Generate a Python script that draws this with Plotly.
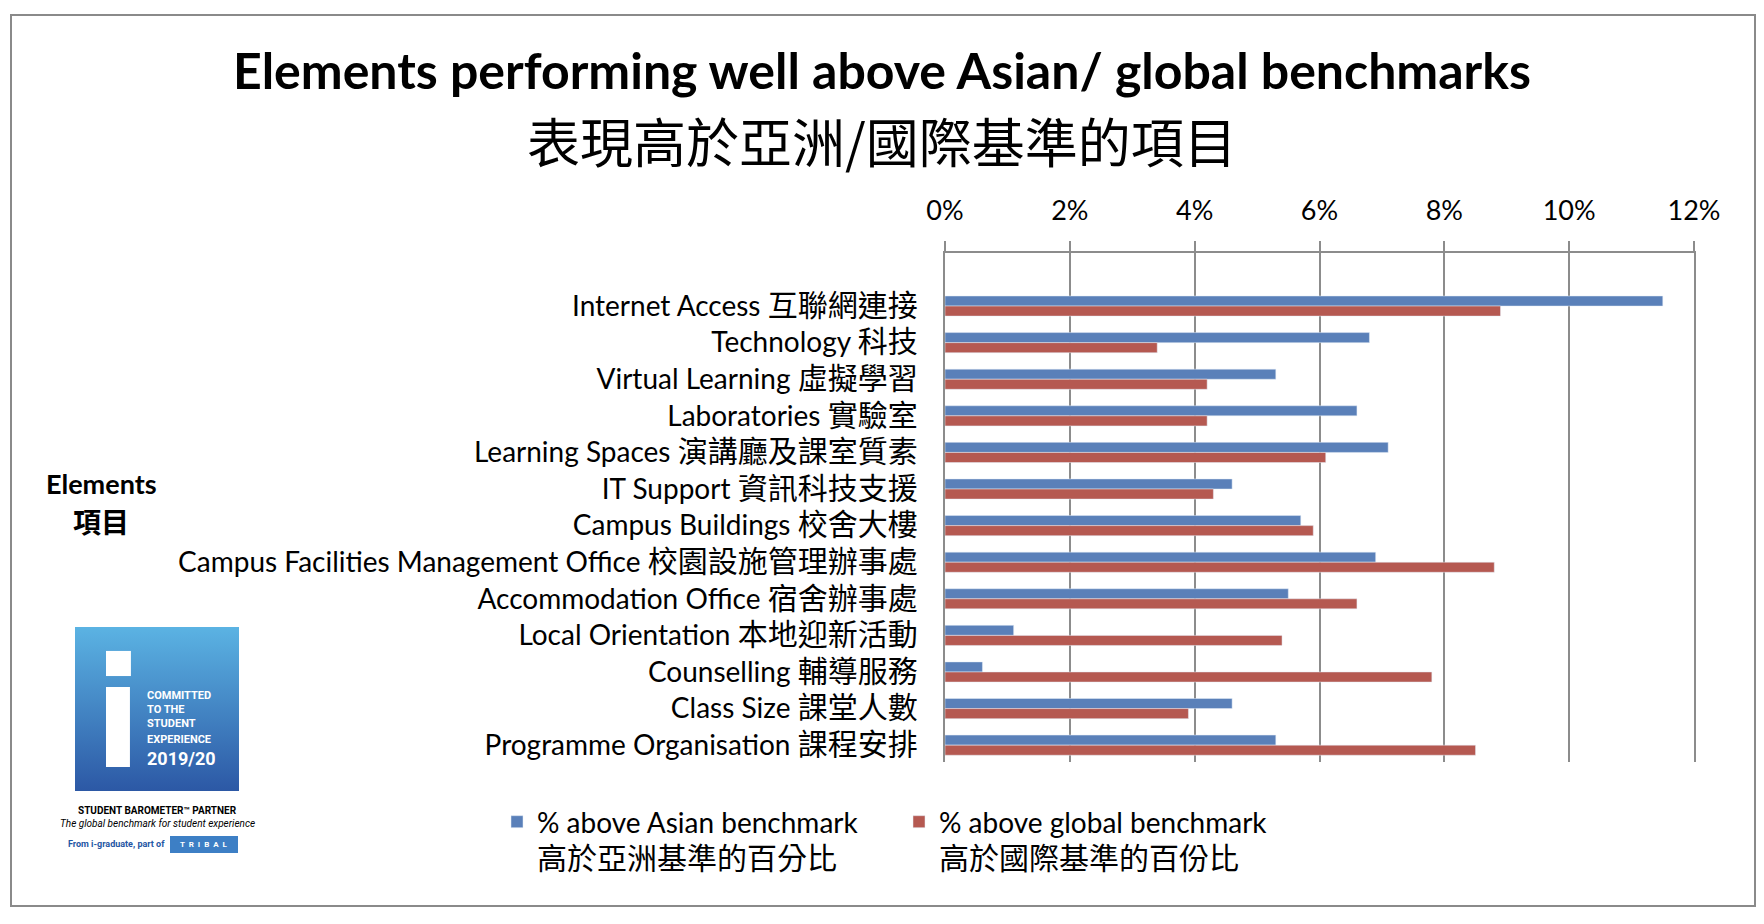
import plotly.graph_objects as go

# data (percent above benchmark)
elements_en = ["Internet Access", "Technology", "Virtual Learning", "Laboratories",
               "Learning Spaces", "IT Support", "Campus Buildings",
               "Campus Facilities Management Office", "Accommodation Office",
               "Local Orientation", "Counselling", "Class Size", "Programme Organisation"]
elements_zh = ["互聯網連接", "科技", "虛擬學習", "實驗室", "演講廳及課室質素", "資訊科技支援",
               "校舍大樓", "校園設施管理辦事處", "宿舍辦事處", "本地迎新活動", "輔導服務",
               "課堂人數", "課程安排"]
above_asian = [11.5, 6.8, 5.3, 6.6, 7.1, 4.6, 5.7, 6.9, 5.5, 1.1, 0.6, 4.6, 5.3]
above_global = [8.9, 3.4, 4.2, 4.2, 6.1, 4.3, 5.9, 8.8, 6.6, 5.4, 7.8, 3.9, 8.5]
x_ticks = [0, 2, 4, 6, 8, 10, 12]

W, H = 1764, 924
FONT = "Lato, 'Noto Sans CJK TC', sans-serif"
ZH = "'Noto Sans CJK TC', sans-serif"
GRID = "#8c8c8c"


def px(x):
    return x / W


def py(y):
    return 1 - y / H


cats = [f"{e} {z}" for e, z in zip(elements_en, elements_zh)]
tick_text = [f"{e} <span style='font-size:30px'>{z}</span>" for e, z in zip(elements_en, elements_zh)]

fig = go.Figure()
fig.add_trace(go.Bar(
    y=cats, x=above_asian, orientation="h", marker_color="#5a80b9",
    name="% above Asian benchmark<br><span style='font-size:30px'>高於亞洲基準的百分比</span>",
))
fig.add_trace(go.Bar(
    y=cats, x=above_global, orientation="h", marker_color="#b55951",
    name="% above global benchmark<br><span style='font-size:30px'>高於國際基準的百份比</span>",
))

# logo square with gradient, on its own hidden axes
fig.add_trace(go.Scatter(
    x=[0, 1, 1, 0, 0], y=[0, 0, 1, 1, 0], xaxis="x2", yaxis="y2",
    mode="lines", line=dict(width=0), fill="toself",
    fillgradient=dict(type="vertical", colorscale=[[0, "#2c58a5"], [1, "#5bb3e3"]]),
    showlegend=False, hoverinfo="skip",
))

fig.update_layout(
    width=W, height=H,
    margin=dict(l=0, r=0, t=0, b=0, autoexpand=False),
    paper_bgcolor="white", plot_bgcolor="white",
    font=dict(family=FONT, size=27, color="black"),
    barmode="group", bargap=0.45, bargroupgap=0,
    showlegend=True,
    legend=dict(orientation="h", x=px(497), y=py(797), xanchor="left", yanchor="top",
                valign="top", itemwidth=30, entrywidth=357, font=dict(size=28),
                traceorder="normal", bgcolor="rgba(0,0,0,0)"),
    xaxis=dict(domain=[px(945), px(1694)], range=[0, 12], side="top", automargin=False,
               tickvals=x_ticks, ticktext=[f"{v}%" for v in x_ticks], tickfont=dict(size=27),
               showgrid=True, gridcolor=GRID, gridwidth=1.5,
               showline=True, linecolor=GRID, linewidth=1.5,
               ticks="outside", ticklen=10, tickcolor=GRID, tickwidth=1.5,
               ticklabelstandoff=10, zeroline=False, fixedrange=True),
    yaxis=dict(domain=[py(762), py(253)], range=[12.46, -1.45], automargin=False,
               tickvals=cats, ticktext=tick_text, tickfont=dict(size=28),
               showline=True, mirror=True, linecolor=GRID, linewidth=1.5,
               ticks="", ticklabelstandoff=20, showgrid=False, fixedrange=True),
    xaxis2=dict(domain=[px(75), px(239)], range=[0, 1], visible=False, fixedrange=True,
                automargin=False),
    yaxis2=dict(domain=[py(791), py(627)], range=[0, 1], visible=False, fixedrange=True,
                automargin=False),
)

shapes = [
    # outer frame
    dict(type="rect", xref="paper", yref="paper", x0=px(11), x1=px(1755), y0=py(906), y1=py(15),
         line=dict(color="#8a8a8a", width=2), fillcolor="rgba(0,0,0,0)", layer="below"),
    # the white "i" of the logo
    dict(type="rect", xref="x2", yref="y2", x0=0.189, x1=0.341, y0=0.701, y1=0.854,
         line=dict(width=0), fillcolor="white"),
    dict(type="rect", xref="x2", yref="y2", x0=0.189, x1=0.335, y0=0.146, y1=0.634,
         line=dict(width=0), fillcolor="white"),
    # TRIBAL badge
    dict(type="rect", xref="paper", yref="paper", x0=px(170), x1=px(238), y0=py(853), y1=py(836),
         line=dict(width=0), fillcolor="#3d7fc5"),
]

annotations = [
    dict(text="<b>Elements performing well above Asian/ global benchmarks</b>",
         x=0.5, y=py(70), font=dict(size=50)),
    dict(text="表現高於亞洲/國際基準的項目", x=0.5, y=py(140), font=dict(size=53, family=ZH)),
    dict(text="<b>Elements</b>", x=px(101), y=py(483), font=dict(size=27)),
    dict(text="<b>項目</b>", x=px(101), y=py(521), font=dict(size=28, family=ZH)),
    dict(text="<b>STUDENT BAROMETER™ PARTNER</b>", x=px(157), y=py(810),
         font=dict(size=10, family="Roboto")),
    dict(text="<i>The global benchmark for student experience</i>", x=px(157), y=py(823),
         font=dict(size=10, family="Roboto")),
    dict(text="<b>From i-graduate, part of</b>", x=px(167), y=py(844), xanchor="right",
         font=dict(size=9, family="Roboto", color="#2456a4")),
    dict(text="<b>T  R  I  B  A  L</b>", x=px(204), y=py(844),
         font=dict(size=8, family="Roboto", color="white")),
]
logo_lines = [("COMMITTED", 0.585), ("TO THE", 0.494), ("STUDENT", 0.409), ("EXPERIENCE", 0.317)]
for txt, yy in logo_lines:
    annotations.append(dict(text=f"<b>{txt}</b>", xref="x2", yref="y2", x=0.427, y=yy,
                            xanchor="left", font=dict(size=11, family="Roboto", color="white")))
annotations.append(dict(text="<b>2019/20</b>", xref="x2", yref="y2", x=0.427, y=0.201,
                        xanchor="left", font=dict(size=18, family="Roboto", color="white")))

for a in annotations:
    a.setdefault("xref", "paper")
    a.setdefault("yref", "paper")
    a.setdefault("xanchor", "center")
    a.setdefault("yanchor", "middle")
    a["showarrow"] = False

fig.update_layout(shapes=shapes, annotations=annotations)

# no body margin, so the figure fills the window exactly
fig.write_html("out.html", config={"displayModeBar": False},
               post_script="document.body.style.margin='0';")
